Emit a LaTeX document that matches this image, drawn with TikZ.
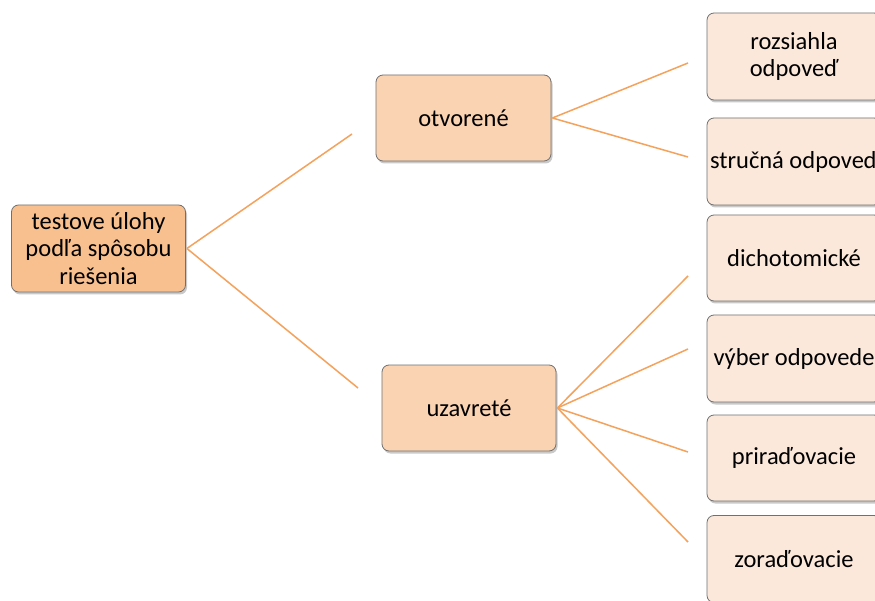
\documentclass[tikz,border=0pt]{standalone}
\usepackage{fontspec}
\setmainfont{Carlito}
\usetikzlibrary{shadows}
\definecolor{rootfill}{RGB}{248,192,143}
\definecolor{midfill}{RGB}{250,211,178}
\definecolor{leaffill}{RGB}{252,232,218}
\definecolor{boxline}{RGB}{112,112,112}
\definecolor{linkline}{RGB}{244,162,92}
\tikzset{
  box/.style={draw=boxline, line width=0.8pt, rounded corners=7pt,
    minimum width=174pt, minimum height=87pt, inner sep=0pt, align=center,
    font=\fontsize{24.5}{27.5}\selectfont,
    drop shadow={shadow xshift=1.5pt, shadow yshift=-2.5pt, opacity=0.35, fill=black!60}},
  rootbox/.style={box, fill=rootfill},
  midbox/.style={box, fill=midfill},
  leafbox/.style={box, fill=leaffill},
  link/.style={draw=linkline, line width=1.5pt}
}
\begin{document}
\begin{tikzpicture}[x=1pt,y=-1pt]
\useasboundingbox (0,0) rectangle (875,601);
\clip (0,0) rectangle (875,601);
\fill[white] (0,0) rectangle (875,601);

% tree nodes
\node[rootbox] (root) at (98.5,248.5) {testove úlohy\\podľa spôsobu\\riešenia};
\node[midbox, minimum width=175pt, minimum height=86pt] (open) at (463.5,118) {otvorené};
\node[midbox, minimum height=86pt] (closed) at (469,408) {uzavreté};

\node[leafbox] (l1) at (794,56.5) {rozsiahla\\odpoveď};
\node[leafbox] (l2) at (794,161.5) {stručná odpoveď};
\node[leafbox, minimum height=86pt] (l3) at (794,258) {dichotomické};
\node[leafbox] (l4) at (794,358.5) {výber odpovede};
\node[leafbox, minimum height=86pt] (l5) at (794,458) {priraďovacie};
\node[leafbox] (l6) at (794,559) {zoraďovacie};

% free ends of the connectors
\coordinate (toOpen) at (352,134);
\coordinate (toClosed) at (358,388);
\coordinate (e1) at (688,63);
\coordinate (e2) at (688,157);
\coordinate (e3) at (688,276);
\coordinate (e4) at (688,349);
\coordinate (e5) at (688,452);
\coordinate (e6) at (688,542);

% connectors
\draw[link] ([xshift=1pt]root.east) -- (toOpen);
\draw[link] ([xshift=1pt]root.east) -- (toClosed);
\draw[link] ([xshift=1pt]open.east) -- (e1);
\draw[link] ([xshift=1pt]open.east) -- (e2);
\draw[link] ([xshift=1pt]closed.east) -- (e3);
\draw[link] ([xshift=1pt]closed.east) -- (e4);
\draw[link] ([xshift=1pt]closed.east) -- (e5);
\draw[link] ([xshift=1pt]closed.east) -- (e6);
\end{tikzpicture}
\end{document}
